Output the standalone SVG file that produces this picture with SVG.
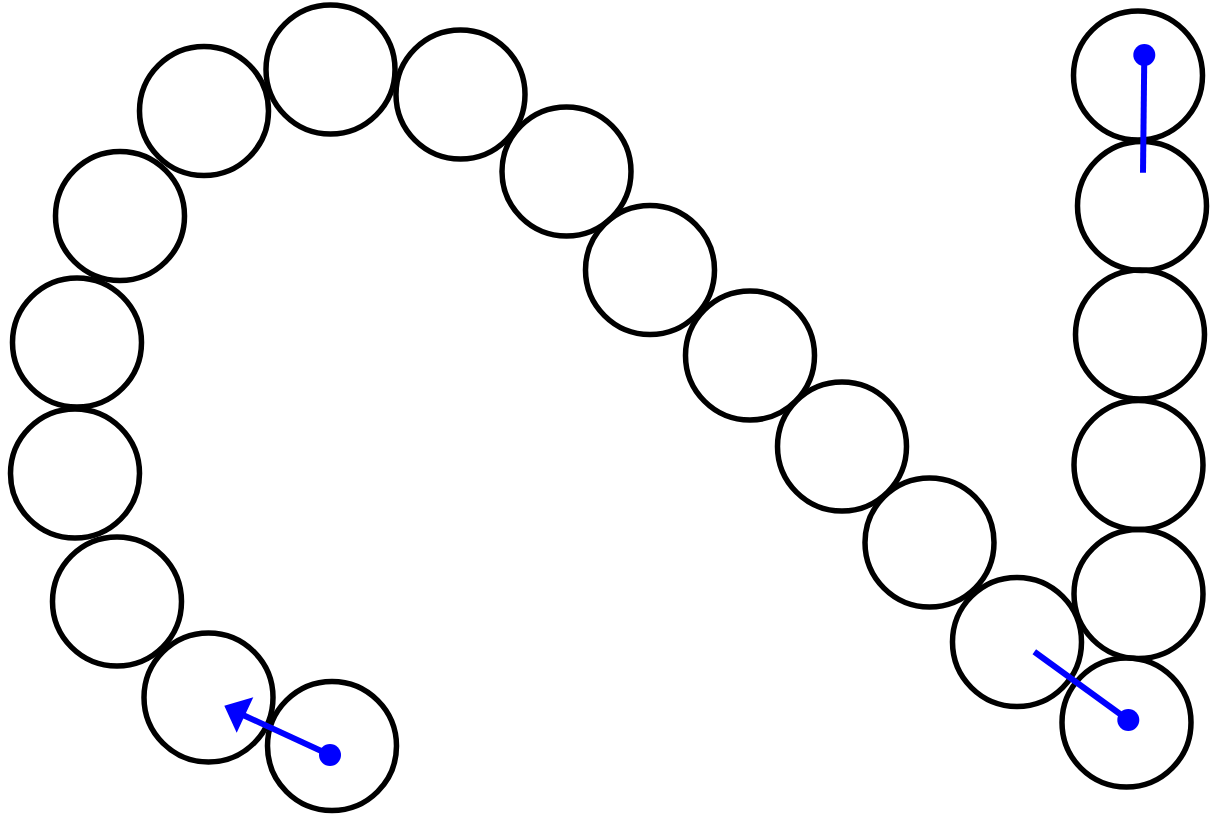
<svg xmlns="http://www.w3.org/2000/svg" width="1212" height="820" viewBox="0 0 1212 820">
<style>
.c{fill:none;stroke:#000;stroke-width:5.5}
.v{stroke:#0000ff;stroke-width:6;fill:none}
.d{fill:#0000ff}
</style>
<rect width="1212" height="820" fill="#fff"/>
<g id="nodes">
<g id="n1"><circle class="c" cx="332" cy="746" r="64.5"/></g>
<g id="n2"><circle class="c" cx="208.5" cy="697.5" r="64.5"/></g>
<g id="n3"><circle class="c" cx="117" cy="601.5" r="64.5"/></g>
<g id="n4"><circle class="c" cx="75" cy="473.5" r="64.5"/></g>
<g id="n5"><circle class="c" cx="77" cy="342.5" r="64.5"/></g>
<g id="n6"><circle class="c" cx="120" cy="216" r="64.5"/></g>
<g id="n7"><circle class="c" cx="204" cy="111" r="64.5"/></g>
<g id="n8"><circle class="c" cx="330.5" cy="69.5" r="64.5"/></g>
<g id="n9"><circle class="c" cx="460.5" cy="94.5" r="64.5"/></g>
<g id="n10"><circle class="c" cx="566.5" cy="171.5" r="64.5"/></g>
<g id="n11"><circle class="c" cx="650" cy="270" r="64.5"/></g>
<g id="n12"><circle class="c" cx="750" cy="355.5" r="64.5"/></g>
<g id="n13"><circle class="c" cx="842" cy="446.5" r="64.5"/></g>
<g id="n14"><circle class="c" cx="929.5" cy="542.5" r="64.5"/></g>
<g id="n15"><circle class="c" cx="1017" cy="642" r="64.5"/></g>
<g id="n16"><circle class="c" cx="1126.5" cy="722.5" r="64.5"/></g>
<g id="n17"><circle class="c" cx="1138.5" cy="594" r="64.5"/></g>
<g id="n18"><circle class="c" cx="1138.5" cy="465" r="64.5"/></g>
<g id="n19"><circle class="c" cx="1140" cy="334.5" r="64.5"/></g>
<g id="n20"><circle class="c" cx="1142" cy="206" r="64.5"/></g>
<g id="n21"><circle class="c" cx="1138" cy="75.5" r="64.5"/></g>
</g>
<g id="connectors">
<line class="v" x1="330" y1="755" x2="243" y2="715"/>
<polygon class="d" points="224.3,705.7 253.3,697.3 236.7,732.7"/>
<circle class="d" cx="330" cy="755" r="11"/>
<line class="v" x1="1128.3" y1="720" x2="1034.3" y2="651.7"/>
<circle class="d" cx="1128.3" cy="720" r="11"/>
<line class="v" x1="1144.3" y1="55" x2="1143" y2="172.7"/>
<circle class="d" cx="1144.3" cy="55" r="11"/>
</g>
</svg>
